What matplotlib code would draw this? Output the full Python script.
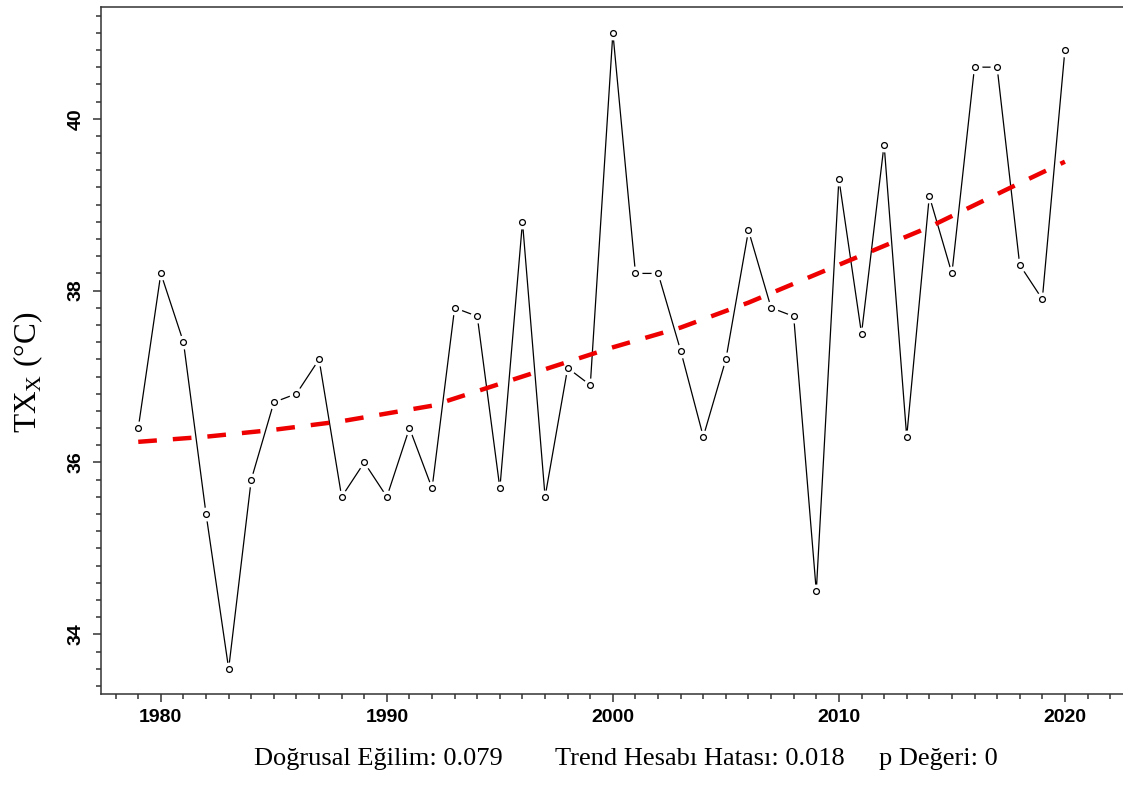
import matplotlib.pyplot as plt
import numpy as np
from matplotlib.ticker import MultipleLocator

# yillik maksimum sicaklik (TXx)
years = list(range(1979, 2021))
txx = [36.4, 38.2, 37.4, 35.4, 33.6, 35.8, 36.7, 36.8, 37.2, 35.6,
       36.0, 35.6, 36.4, 35.7, 37.8, 37.7, 35.7, 38.8, 35.6, 37.1,
       36.9, 41.0, 38.2, 38.2, 37.3, 36.3, 37.2, 38.7, 37.8, 37.7,
       34.5, 39.3, 37.5, 39.7, 36.3, 39.1, 38.2, 40.6, 40.6, 38.3,
       37.9, 40.8]

# duzlestirilmis egilim egrisi
trend_years = [1979, 1982, 1985, 1988, 1992, 1996, 2000, 2003, 2006, 2010, 2014, 2018, 2020]
trend_vals = [36.24, 36.30, 36.38, 36.48, 36.66, 37.00, 37.34, 37.57, 37.86, 38.30, 38.74, 39.25, 39.50]

stats_text = ["Doğrusal Eğilim: 0.079", "Trend Hesabı Hatası: 0.018", "p Değeri: 0"]

plt.rcParams['mathtext.fontset'] = 'custom'
plt.rcParams['mathtext.rm'] = 'Liberation Serif'

fig = plt.figure(figsize=(11.23, 7.87), dpi=100)
ax = fig.add_axes([0.0899, 0.1182, 0.9101, 0.8729])

# seri (R type="b" gibi, noktalarin etrafinda bosluk)
ax.plot(years, txx, color='black', lw=0.9, zorder=2)
ax.plot(years, txx, ls='none', marker='o', ms=9, mfc='white', mec='white', zorder=3)
ax.plot(years, txx, ls='none', marker='o', ms=4.2, mfc='white', mec='black', mew=0.9, zorder=4)

# egilim
ax.plot(trend_years, trend_vals, color='#ee0000', lw=3.2, ls=(0, (4.2, 3.6)), zorder=5)

ax.set_xlim(1977.35, 2022.57)
ax.set_ylim(33.306, 41.30)

ax.spines['right'].set_visible(False)
for s in ['left', 'bottom', 'top']:
    ax.spines[s].set_linewidth(1.1)
    ax.spines[s].set_color('#333333')

ax.set_xticks([1980, 1990, 2000, 2010, 2020])
ax.xaxis.set_minor_locator(MultipleLocator(1))
ax.set_yticks([34, 36, 38, 40])
ax.yaxis.set_minor_locator(MultipleLocator(0.2))

ax.tick_params(axis='both', which='major', length=6, width=1.1, color='#333333')
ax.tick_params(axis='both', which='minor', length=3.5, width=1.1, color='#333333')
ax.tick_params(axis='x', which='major', pad=5)
ax.tick_params(axis='y', which='major', pad=6)

for lab in ax.get_xticklabels():
    lab.set_fontfamily('Liberation Sans')
    lab.set_fontsize(14)
    lab.set_fontweight('bold')
for lab in ax.get_yticklabels():
    lab.set_fontfamily('Liberation Sans')
    lab.set_fontsize(14)
    lab.set_fontweight('bold')
    lab.set_rotation(90)
    lab.set_va('center')

fig.text(28 / 1123, 1 - 372 / 787, r'TX$_\mathrm{X}$ (°C)', rotation=90,
         ha='center', va='center', fontfamily='Liberation Serif', fontsize=22.5)

xs = [0.2265, 0.4945, 0.7825]
for x, t in zip(xs, stats_text):
    fig.text(x, 0.022, t, ha='left', va='bottom', fontfamily='Liberation Serif', fontsize=19)

fig.savefig('out.png', dpi=100)
